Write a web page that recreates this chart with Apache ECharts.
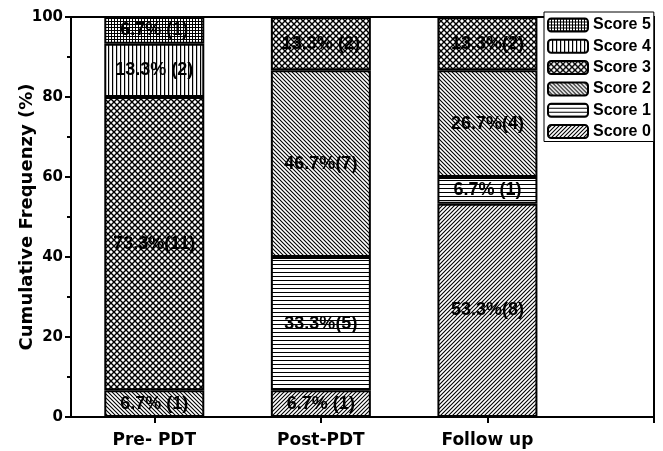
<!DOCTYPE html>
<html><head><meta charset="utf-8">
<script src="https://cdn.jsdelivr.net/npm/echarts@6/dist/echarts.min.js"></script>
<style>html,body{margin:0;padding:0;background:#fff}#c{width:663px;height:451px}</style>
</head><body><div id="c"></div>
<script>
const categories = ['Pre- PDT', 'Post-PDT', 'Follow up'];
const scoreNames = ['Score 0', 'Score 1', 'Score 2', 'Score 3', 'Score 4', 'Score 5'];
const score0 = [0, 6.7, 53.3];
const score1 = [0, 33.3, 6.7];
const score2 = [6.7, 46.7, 26.7];
const score3 = [73.3, 13.3, 13.3];
const score4 = [13.3, 0, 0];
const score5 = [6.7, 0, 0];
const label0 = ['', '6.7% (1)', '53.3%(8)'];
const label1 = ['', '33.3%(5)', '6.7% (1)'];
const label2 = ['6.7% (1)', '46.7%(7)', '26.7%(4)'];
const label3 = ['73.3%(11)', '13.3% (2)', '13.3%(2)'];
const label4 = ['13.3% (2)', '', ''];
const label5 = ['6.7% (1)', '', ''];
const yTicks = [0, 20, 40, 60, 80, 100];

const values = [score0, score1, score2, score3, score4, score5];
const labels = [label0, label1, label2, label3, label4, label5];
const FONT = 'DejaVu Sans';
const FONT2 = 'Liberation Sans, Arial';

function tile(size, draw) {
  const c = document.createElement('canvas');
  c.width = size; c.height = size;
  const g = c.getContext('2d');
  g.fillStyle = '#fff'; g.fillRect(0, 0, size, size);
  g.strokeStyle = '#000';
  draw(g, size);
  return c;
}
function fwd(g, s) { // '/'
  g.beginPath();
  g.moveTo(-1, s + 1); g.lineTo(s + 1, -1);
  g.moveTo(-1, 1); g.lineTo(1, -1);
  g.moveTo(s - 1, s + 1); g.lineTo(s + 1, s - 1);
  g.stroke();
}
function back(g, s) { // '\'
  g.beginPath();
  g.moveTo(-1, -1); g.lineTo(s + 1, s + 1);
  g.moveTo(s - 1, -1); g.lineTo(s + 1, 1);
  g.moveTo(-1, s - 1); g.lineTo(1, s + 1);
  g.stroke();
}
const patterns = [
  tile(4, (g, s) => { g.lineWidth = 1.1; fwd(g, s); }),
  tile(4, (g, s) => { g.lineWidth = 1; g.beginPath(); g.moveTo(0, 0.5); g.lineTo(s, 0.5); g.stroke(); }),
  tile(4, (g, s) => { g.lineWidth = 1.1; back(g, s); }),
  tile(6, (g, s) => { g.lineWidth = 1.4; fwd(g, s); back(g, s); }),
  tile(4, (g, s) => { g.lineWidth = 1.2; g.beginPath(); g.moveTo(0.6, 0); g.lineTo(0.6, s); g.stroke(); }),
  tile(3, (g, s) => { g.lineWidth = 1; g.beginPath(); g.moveTo(0.5, 0); g.lineTo(0.5, s); g.moveTo(0, 0.5); g.lineTo(s, 0.5); g.stroke(); })
];

const series = scoreNames.map((name, k) => ({
  name: name,
  type: 'bar',
  stack: 'total',
  barWidth: 100,
  // column 0 = value (stacked), column 1 = category position
  data: values[k].map((v, i) => [v, i + 1]),
  encode: { x: 1, y: 0 },
  itemStyle: { color: { image: patterns[k], repeat: 'repeat' }, borderColor: '#000', borderWidth: 2 },
  label: {
    show: true, position: 'inside', color: '#000',
    fontFamily: FONT2, fontWeight: 'bold', fontSize: 18,
    formatter: p => labels[k][p.dataIndex]
  },
  emphasis: { disabled: true }
}));

const chart = echarts.init(document.getElementById('c'));
chart.setOption({
  animation: false,
  backgroundColor: '#fff',
  grid: {
    left: 71, right: 9, top: 17, bottom: 34, containLabel: false, outerBoundsMode: 'none',
    show: true, borderColor: '#000', borderWidth: 2, backgroundColor: 'transparent'
  },
  legend: {
    orient: 'vertical', left: 544, top: 12,
    data: scoreNames.slice().reverse(),
    itemWidth: 40, itemHeight: 13, itemGap: 5.3,
    padding: [5, 3, 2, 3],
    backgroundColor: '#fff', borderColor: '#000', borderWidth: 1,
    textStyle: { fontFamily: FONT2, fontWeight: 'bold', fontSize: 16, lineHeight: 16, color: '#000' },
    itemStyle: { borderColor: '#000', borderWidth: 2 },
    selectedMode: false
  },
  xAxis: {
    type: 'value', min: 0.5, max: 4,
    axisLine: { lineStyle: { color: '#000', width: 2 } },
    axisTick: { show: true, length: 6, lineStyle: { color: '#000', width: 2 }, customValues: [1, 2, 3, 4] },
    axisLabel: {
      customValues: [1, 2, 3], margin: 15,
      formatter: v => categories[Math.round(v) - 1] || '',
      fontFamily: FONT, fontWeight: 'bold', fontSize: 17, color: '#000'
    },
    splitLine: { show: false }
  },
  yAxis: {
    type: 'value', min: 0, max: 100, interval: 20,
    name: 'Cumulative Frequenzy (%)', nameLocation: 'middle', nameGap: 35, nameMoveOverlap: false,
    nameTextStyle: { fontFamily: FONT, fontWeight: 'bold', fontSize: 18, color: '#000' },
    axisLine: { show: true, lineStyle: { color: '#000', width: 2 } },
    axisTick: { show: true, length: 6, lineStyle: { color: '#000', width: 2 } },
    minorTick: { show: true, splitNumber: 2, length: 4, lineStyle: { color: '#000', width: 2 } },
    axisLabel: {
      margin: 8, customValues: yTicks,
      fontFamily: FONT, fontWeight: 'bold', fontSize: 15, color: '#000'
    },
    splitLine: { show: false }
  },
  series: series
});
</script></body></html>
